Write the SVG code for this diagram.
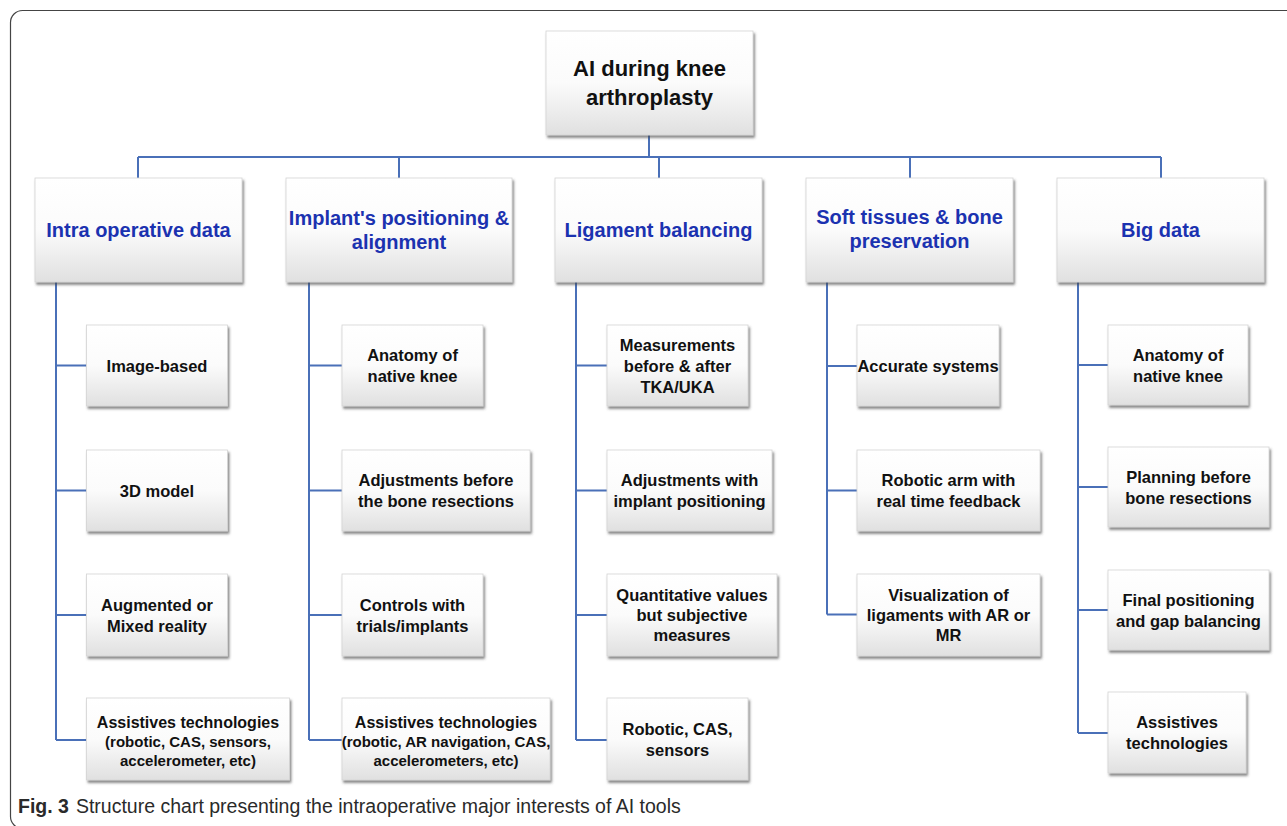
<svg xmlns="http://www.w3.org/2000/svg" width="1287" height="826" viewBox="0 0 1287 826">
<style>
.box{fill:url(#bg);stroke:#d4d4d4;stroke-width:0.8;filter:url(#sh)}
.r{font-family:"Liberation Sans",Arial,sans-serif;font-weight:bold;font-size:22px;fill:#111;text-anchor:middle}
.h{font-family:"Liberation Sans",Arial,sans-serif;font-weight:bold;font-size:20px;fill:#1b32b0;text-anchor:middle}
.t{font-family:"Liberation Sans",Arial,sans-serif;font-weight:bold;font-size:16.5px;fill:#111;text-anchor:middle}
.s{font-size:15px}
.a{font-size:16px}
.c{fill:none;stroke:#4a70b8;stroke-width:2}
.cap{font-family:"Liberation Sans",Arial,sans-serif;font-size:19.5px;fill:#2a2a2a}
</style>
<defs>
<linearGradient id="bg" x1="0" y1="0" x2="0" y2="1">
<stop offset="0" stop-color="#ffffff"/>
<stop offset="0.5" stop-color="#fbfbfb"/>
<stop offset="1" stop-color="#e0e0e0"/>
</linearGradient>
<filter id="sh" x="-10%" y="-10%" width="130%" height="140%">
<feDropShadow dx="1.5" dy="2.5" stdDeviation="1.3" flood-color="#444" flood-opacity="0.65"/>
</filter>
</defs>
<rect x="0" y="0" width="1287" height="826" fill="#ffffff"/>
<rect x="10.5" y="10.5" width="1300" height="818" rx="12" fill="none" stroke="#444" stroke-width="1.2"/>

<g id="connectors">
<path class="c" d="M649 135V157M138 157H1161M138 157V178M399 157V178M659 157V178M910 157V178M1161 157V178"/>
<path class="c" d="M56 282V740M56 365.5H86.5M56 490.5H86.5M56 615H86.5M56 740H86.5"/>
<path class="c" d="M309 282V740M309 365.5H342M309 490.5H342M309 615H342M309 740H342"/>
<path class="c" d="M576 282V740M576 365.5H607M576 490.5H607M576 615H607M576 740H607"/>
<path class="c" d="M827 282V614.5M827 366H857M827 490.5H857M827 614.5H857"/>
<path class="c" d="M1078 282V733M1078 365H1108M1078 487H1108M1078 610H1108M1078 733H1108"/>
</g>

<g id="root"><rect class="box" x="546" y="31" width="207" height="104"/><text class="r" x="649.5" y="76">AI during knee</text><text class="r" x="649.5" y="105">arthroplasty</text></g>

<g id="h1"><rect class="box" x="35" y="178" width="207" height="104"/><text class="h" x="138.5" y="237">Intra operative data</text></g>
<g id="h2"><rect class="box" x="286" y="178" width="226" height="104"/><text class="h" x="399" y="225">Implant's positioning &amp;</text><text class="h" x="399" y="249">alignment</text></g>
<g id="h3"><rect class="box" x="555" y="178" width="207" height="104"/><text class="h" x="658.5" y="237">Ligament balancing</text></g>
<g id="h4"><rect class="box" x="806" y="178" width="207" height="104"/><text class="h" x="909.5" y="224">Soft tissues &amp; bone</text><text class="h" x="909.5" y="248">preservation</text></g>
<g id="h5"><rect class="box" x="1057" y="178" width="207" height="104"/><text class="h" x="1160.5" y="237">Big data</text></g>

<g id="c1a"><rect class="box" x="86.5" y="325" width="141" height="81"/><text class="t" x="157" y="371.5">Image-based</text></g>
<g id="c1b"><rect class="box" x="86.5" y="450" width="141" height="81"/><text class="t" x="157" y="496.5">3D model</text></g>
<g id="c1c"><rect class="box" x="86.5" y="574" width="141" height="82"/><text class="t" x="157" y="610.5">Augmented or</text><text class="t" x="157" y="631.5">Mixed reality</text></g>
<g id="c1d"><rect class="box" x="86.5" y="698" width="203" height="82"/><text class="t a" x="188" y="727.5">Assistives technologies</text><text class="t s" x="188" y="746.5">(robotic, CAS, sensors,</text><text class="t s" x="188" y="765.5">accelerometer, etc)</text></g>

<g id="c2a"><rect class="box" x="342" y="325" width="141" height="81"/><text class="t" x="412.5" y="361">Anatomy of</text><text class="t" x="412.5" y="382">native knee</text></g>
<g id="c2b"><rect class="box" x="342" y="450" width="188" height="81"/><text class="t" x="436" y="486">Adjustments before</text><text class="t" x="436" y="507">the bone resections</text></g>
<g id="c2c"><rect class="box" x="342" y="574" width="141" height="82"/><text class="t" x="412.5" y="610.5">Controls with</text><text class="t" x="412.5" y="631.5">trials/implants</text></g>
<g id="c2d"><rect class="box" x="342" y="698" width="208" height="82"/><text class="t a" x="446" y="727.5">Assistives technologies</text><text class="t s" x="446" y="746.5">(robotic, AR navigation, CAS,</text><text class="t s" x="446" y="765.5">accelerometers, etc)</text></g>

<g id="c3a"><rect class="box" x="607" y="325" width="141" height="81"/><text class="t" x="677.5" y="351">Measurements</text><text class="t" x="677.5" y="372">before &amp; after</text><text class="t" x="677.5" y="393">TKA/UKA</text></g>
<g id="c3b"><rect class="box" x="607" y="450" width="165" height="81"/><text class="t" x="689.5" y="486">Adjustments with</text><text class="t" x="689.5" y="507">implant positioning</text></g>
<g id="c3c"><rect class="box" x="607" y="574" width="170" height="82"/><text class="t" x="692" y="601">Quantitative values</text><text class="t" x="692" y="621">but subjective</text><text class="t" x="692" y="641">measures</text></g>
<g id="c3d"><rect class="box" x="607" y="698" width="141" height="82"/><text class="t" x="677.5" y="735">Robotic, CAS,</text><text class="t" x="677.5" y="756">sensors</text></g>

<g id="c4a"><rect class="box" x="857" y="325" width="142" height="81"/><text class="t" x="928" y="372">Accurate systems</text></g>
<g id="c4b"><rect class="box" x="857" y="450" width="183" height="81"/><text class="t" x="948.5" y="486">Robotic arm with</text><text class="t" x="948.5" y="507">real time feedback</text></g>
<g id="c4c"><rect class="box" x="857" y="574" width="183" height="82"/><text class="t" x="948.5" y="601">Visualization of</text><text class="t" x="948.5" y="621">ligaments with AR or</text><text class="t" x="948.5" y="641">MR</text></g>

<g id="c5a"><rect class="box" x="1108" y="325" width="140" height="80"/><text class="t" x="1178" y="361">Anatomy of</text><text class="t" x="1178" y="382">native knee</text></g>
<g id="c5b"><rect class="box" x="1108" y="447" width="161" height="80"/><text class="t" x="1188.5" y="483">Planning before</text><text class="t" x="1188.5" y="504">bone resections</text></g>
<g id="c5c"><rect class="box" x="1108" y="570" width="161" height="80"/><text class="t" x="1188.5" y="606">Final positioning</text><text class="t" x="1188.5" y="627">and gap balancing</text></g>
<g id="c5d"><rect class="box" x="1108" y="692" width="138" height="81"/><text class="t" x="1177" y="728">Assistives</text><text class="t" x="1177" y="749">technologies</text></g>

<text class="cap" x="18" y="813"><tspan font-weight="bold">Fig. 3</tspan><tspan dx="7">Structure chart presenting the intraoperative major interests of AI tools</tspan></text>
</svg>
